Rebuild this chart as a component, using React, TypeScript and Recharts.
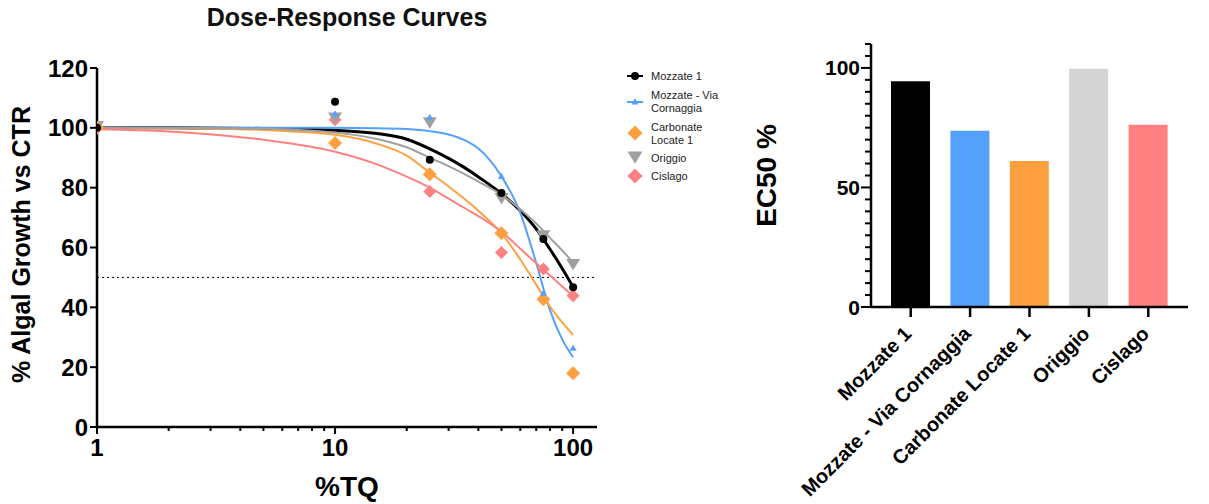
import React from 'react';
import {
  ComposedChart,
  Line,
  Scatter,
  XAxis,
  YAxis,
  ReferenceLine,
  Label,
  BarChart,
  Bar,
  Cell,
} from 'recharts';

const FONT = '"Liberation Sans", Arial, Helvetica, sans-serif';

// measured doses (%TQ)
const doses = [1, 10, 25, 50, 75, 100];
const mozzate1 = [100, 108.7, 89.3, 78.2, 62.8, 46.7];
const viaCornaggia = [100, 104.6, 103.4, 83.7, 44.7, 26.3];
const carbonateLocate = [100, 94.9, 84.5, 64.8, 42.7, 18];
const origgio = [100.5, 103.4, 101.8, 76.5, 64, 54.4];
const cislago = [100, 102.7, 78.7, 58.3, 52.8, 43.9];

// fitted curves at these doses
const curveDoses = [1, 2, 5, 10, 15, 20, 25, 30, 35, 40, 50, 60, 70, 80, 90, 100];
const mozzate1Fit = [100, 100, 99.8, 99.2, 98.1, 96.2, 93, 89.8, 86.7, 83.6, 78, 72.3, 66.2, 59.4, 53, 46.8];
const viaCornaggiaFit = [100, 100, 100, 100, 99.9, 99.6, 98.9, 97.8, 95.9, 93.1, 83.8, 71.6, 54.8, 39, 29.3, 23.3];
const carbonateLocateFit = [100, 99.9, 99.3, 97.7, 94.7, 90.7, 85, 80.4, 76.2, 72.3, 64.7, 56, 47.6, 40.2, 35, 30.8];
const origgioFit = [100, 100, 99.7, 98.4, 96.3, 93.5, 90, 87.2, 84.5, 82, 77.6, 72.8, 68, 63.2, 59, 55];
const cislagoFit = [99.5, 98.8, 96, 92, 87.8, 83.7, 80, 76.3, 73.2, 70.5, 65.3, 59.6, 54.7, 50.6, 47, 43.9];

const growthTicks = [0, 20, 40, 60, 80, 100, 120];
const majorDoses = [1, 10, 100];
const doseTicks = [1, 2, 3, 4, 5, 6, 7, 8, 9, 10, 20, 30, 40, 50, 60, 70, 80, 90, 100];

// EC50 bar chart
const sites = ['Mozzate 1', 'Mozzate - Via Cornaggia', 'Carbonate Locate 1', 'Origgio', 'Cislago'];
const ec50Values = [94.4, 73.7, 61.1, 99.7, 76.2];
const barColors = ['#000000', '#55A0FA', '#FFA040', '#D4D4D4', '#FF8080'];
const ec50Ticks = Array.from({ length: 23 }, (_, i) => i * 5);

type Kind = 'circle' | 'triangle' | 'triangleDown' | 'diamond';

const series = [
  { name: 'Mozzate 1', color: '#000000', kind: 'circle' as Kind, size: 8, width: 3, points: mozzate1, fit: mozzate1Fit },
  { name: 'Mozzate - Via Cornaggia', color: '#55A0FA', kind: 'triangle' as Kind, size: 7, width: 2, points: viaCornaggia, fit: viaCornaggiaFit },
  { name: 'Carbonate Locate 1', color: '#FFA040', kind: 'diamond' as Kind, size: 14, width: 2, points: carbonateLocate, fit: carbonateLocateFit },
  { name: 'Origgio', color: '#A0A0A0', kind: 'triangleDown' as Kind, size: 14, width: 2, points: origgio, fit: origgioFit },
  { name: 'Cislago', color: '#FF8080', kind: 'diamond' as Kind, size: 13, width: 2, points: cislago, fit: cislagoFit },
];

// drawing order for the points (last on top)
const pointOrder = [4, 3, 2, 1, 0];

const Marker = ({ kind, cx, cy, color, size }: { kind: Kind; cx: number; cy: number; color: string; size: number }) => {
  const h = size / 2;
  if (kind === 'circle') return <circle cx={cx} cy={cy} r={h} fill={color} />;
  if (kind === 'triangle')
    return <polygon points={`${cx},${cy - h * 1.1} ${cx - h},${cy + h * 0.7} ${cx + h},${cy + h * 0.7}`} fill={color} />;
  if (kind === 'triangleDown')
    return <polygon points={`${cx - h},${cy - h * 0.75} ${cx + h},${cy - h * 0.75} ${cx},${cy + h * 0.9}`} fill={color} />;
  return <polygon points={`${cx},${cy - h} ${cx + h},${cy} ${cx},${cy + h} ${cx - h},${cy}`} fill={color} />;
};

const DoseTick = (props: any) => {
  const { x, y, payload } = props;
  const major = majorDoses.includes(payload.value);
  return (
    <g>
      <line x1={x} y1={y} x2={x} y2={y + (major ? 7 : 4)} stroke="#000" strokeWidth={2} />
      {major && (
        <text x={x} y={y + 29} textAnchor="middle" fontSize={24} fontWeight="bold" fill="#000" fontFamily={FONT}>
          {payload.value}
        </text>
      )}
    </g>
  );
};

const Ec50Tick = (props: any) => {
  const { x, y, payload } = props;
  const major = payload.value % 50 === 0;
  return (
    <g>
      <line x1={x - (major ? 10 : 6)} y1={y} x2={x} y2={y} stroke="#000" strokeWidth={2} />
      {major && (
        <text x={x - 11} y={y} dy="0.36em" textAnchor="end" fontSize={21} fontWeight="bold" fill="#000" fontFamily={FONT}>
          {payload.value}
        </text>
      )}
    </g>
  );
};

const SiteTick = (props: any) => {
  const { x, y, payload } = props;
  return (
    <g>
      <line x1={x} y1={y} x2={x} y2={y + 10} stroke="#000" strokeWidth={2.5} />
      <text
        x={x + 2}
        y={y + 28}
        transform={`rotate(-45, ${x + 2}, ${y + 28})`}
        textAnchor="end"
        fontSize={20}
        fontWeight="bold"
        fill="#000"
        fontFamily={FONT}
      >
        {payload.value}
      </text>
    </g>
  );
};

const legendRows = [
  { top: 69.5, lines: ['Mozzate 1'], markerY: 76, line: true },
  { top: 88.5, lines: ['Mozzate - Via', 'Cornaggia'], markerY: 102, line: true },
  { top: 120.5, lines: ['Carbonate', 'Locate 1'], markerY: 133, line: false },
  { top: 151.5, lines: ['Origgio'], markerY: 157, line: false },
  { top: 169.5, lines: ['Cislago'], markerY: 176, line: false },
];

export default function App() {
  const ec50Data = sites.map((name, i) => ({ name, ec50: ec50Values[i] }));

  return (
    <div
      style={{
        position: 'absolute',
        left: 0,
        top: 0,
        width: 1209,
        height: 504,
        overflow: 'hidden',
        background: '#fff',
        fontFamily: FONT,
      }}
    >
      <div
        style={{
          position: 'absolute',
          left: 0,
          top: 5,
          width: 694,
          textAlign: 'center',
          fontSize: 25,
          lineHeight: '25px',
          fontWeight: 'bold',
          color: '#111',
        }}
      >
        Dose-Response Curves
      </div>

      <div style={{ position: 'absolute', left: 0, top: 0 }}>
        <ComposedChart width={600} height={504} margin={{ top: 68, right: 3, left: 0, bottom: 0 }}>
          <XAxis
            dataKey="x"
            type="number"
            scale="log"
            domain={[1, 126]}
            allowDataOverflow
            ticks={doseTicks}
            interval={0}
            height={77}
            tickSize={0}
            tickMargin={0}
            tickLine={false}
            axisLine={{ stroke: '#000', strokeWidth: 2.5 }}
            tick={<DoseTick />}
          >
            <Label
              content={({ viewBox }: any) => (
                <text
                  x={viewBox.x + viewBox.width / 2}
                  y={496}
                  textAnchor="middle"
                  fontSize={28}
                  fontWeight="bold"
                  fill="#000"
                  fontFamily={FONT}
                >
                  %TQ
                </text>
              )}
            />
          </XAxis>
          <YAxis
            dataKey="y"
            type="number"
            domain={[0, 120]}
            ticks={growthTicks}
            interval={0}
            width={97}
            tickSize={7}
            tickMargin={2}
            axisLine={{ stroke: '#000', strokeWidth: 2.5 }}
            tickLine={{ stroke: '#000', strokeWidth: 2 }}
            tick={{ fill: '#000', fontSize: 24, fontWeight: 'bold', fontFamily: FONT }}
          >
            <Label
              content={({ viewBox }: any) => (
                <text
                  transform={`translate(21, ${viewBox.y + viewBox.height / 2 - 3}) rotate(-90)`}
                  textAnchor="middle"
                  dominantBaseline="central"
                  fontSize={25}
                  fontWeight="bold"
                  fill="#000"
                  fontFamily={FONT}
                >
                  % Algal Growth vs CTR
                </text>
              )}
            />
          </YAxis>
          <ReferenceLine y={50} stroke="#000" strokeWidth={1} strokeDasharray="2 3" />
          {series.map((s) => (
            <Line
              key={`fit-${s.name}`}
              data={curveDoses.map((x, i) => ({ x, y: s.fit[i] }))}
              dataKey="y"
              type="monotone"
              stroke={s.color}
              strokeWidth={s.width}
              dot={false}
              activeDot={false}
              isAnimationActive={false}
            />
          ))}
          {pointOrder.map((idx) => {
            const s = series[idx];
            return (
              <Scatter
                key={`pts-${s.name}`}
                data={doses.map((x, i) => ({ x, y: s.points[i] }))}
                isAnimationActive={false}
                shape={(p: any) => <Marker kind={s.kind} cx={p.cx} cy={p.cy} color={s.color} size={s.size} />}
              />
            );
          })}
        </ComposedChart>
      </div>

      {/* legend */}
      {series.map((s, i) => {
        const row = legendRows[i];
        return (
          <React.Fragment key={`lg-${s.name}`}>
            <svg style={{ position: 'absolute', left: 624, top: row.markerY - 10 }} width={24} height={20}>
              {row.line && <line x1={3} y1={10} x2={19} y2={10} stroke={s.color} strokeWidth={2} />}
              <Marker kind={s.kind} cx={11} cy={10} color={s.color} size={s.kind === 'circle' ? 8 : s.kind === 'triangle' ? 7 : 15} />
            </svg>
            <div
              style={{
                position: 'absolute',
                left: 651,
                top: row.top,
                fontSize: 11,
                lineHeight: '13px',
                color: '#222',
                whiteSpace: 'nowrap',
              }}
            >
              {row.lines.map((t) => (
                <div key={t}>{t}</div>
              ))}
            </div>
          </React.Fragment>
        );
      })}

      <div style={{ position: 'absolute', left: 740, top: 0 }}>
        <BarChart width={460} height={504} data={ec50Data} margin={{ top: 44, right: 12, left: 0, bottom: 0 }}>
          <XAxis
            dataKey="name"
            type="category"
            interval={0}
            height={197}
            padding={{ left: 10, right: 10 }}
            tickSize={0}
            tickMargin={0}
            tickLine={false}
            axisLine={{ stroke: '#000', strokeWidth: 2.5 }}
            tick={<SiteTick />}
          />
          <YAxis
            type="number"
            domain={[0, 110]}
            ticks={ec50Ticks}
            interval={0}
            width={131}
            tickSize={0}
            tickMargin={0}
            tickLine={false}
            axisLine={{ stroke: '#000', strokeWidth: 2.5 }}
            tick={<Ec50Tick />}
          >
            <Label
              content={({ viewBox }: any) => (
                <text
                  transform={`translate(${viewBox.x + 26}, ${viewBox.y + viewBox.height / 2}) rotate(-90)`}
                  textAnchor="middle"
                  dominantBaseline="central"
                  fontSize={28}
                  fontWeight="bold"
                  fill="#000"
                  fontFamily={FONT}
                >
                  EC50 %
                </text>
              )}
            />
          </YAxis>
          <Bar dataKey="ec50" barSize={39} isAnimationActive={false}>
            {ec50Data.map((d, i) => (
              <Cell key={d.name} fill={barColors[i]} />
            ))}
          </Bar>
        </BarChart>
      </div>
    </div>
  );
}
